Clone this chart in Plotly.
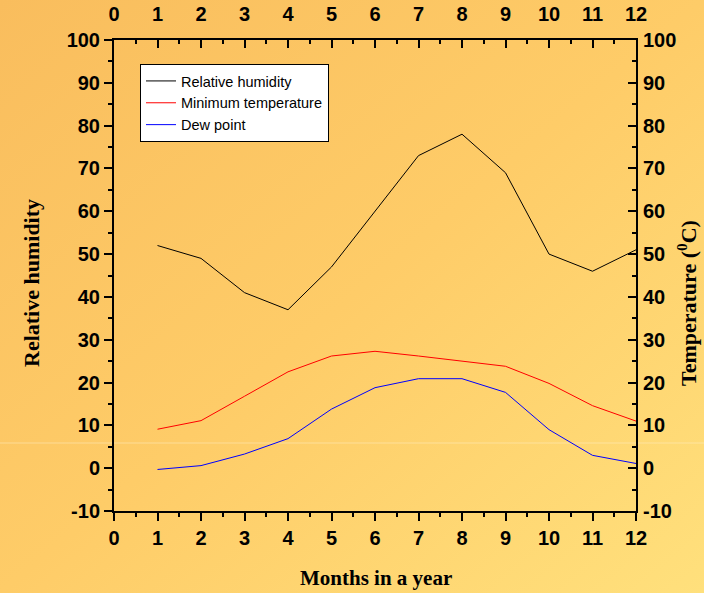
import base64
import plotly.graph_objects as go

months = [1, 2, 3, 4, 5, 6, 7, 8, 9, 10, 11, 12]
relative_humidity = [52, 49, 41, 37, 47, 60, 73, 78, 69, 50, 46, 51]
min_temperature = [9.1, 11.1, 16.8, 22.5, 26.2, 27.3, 26.2, 25.0, 23.8, 19.8, 14.6, 11.0]
dew_point = [-0.3, 0.6, 3.3, 6.9, 13.8, 18.8, 20.9, 20.9, 17.7, 9.0, 3.0, 1.1]
x_ticks = list(range(0, 13))
y_ticks = list(range(-10, 101, 10))
x_labels = [str(v) for v in x_ticks]
y_labels = [str(v) for v in y_ticks]

W, H = 704, 593
L, R, T, B = 114, 68, 40, 82
pw, ph = W - L - R, H - T - B

svg = (
    f'<svg xmlns="http://www.w3.org/2000/svg" width="{W}" height="{H}" viewBox="0 0 {W} {H}" preserveAspectRatio="none">'
    '<defs><linearGradient id="g" x1="0" y1="0" x2="1" y2="1">'
    '<stop offset="0" stop-color="#F9BD5D"/>'
    '<stop offset="0.5" stop-color="#FECC68"/>'
    '<stop offset="1" stop-color="#FFE07C"/>'
    '</linearGradient></defs>'
    f'<rect x="0" y="0" width="{W}" height="{H}" fill="url(#g)"/>'
    '</svg>'
)
src = "data:image/svg+xml;base64," + base64.b64encode(svg.encode()).decode()

tick_font = dict(family="Liberation Sans, Arial", size=20, color="black", weight="bold")
title_font = dict(family="Liberation Serif, Times New Roman, serif", color="black", weight="bold")

fig = go.Figure()
fig.add_trace(go.Scatter(x=months, y=relative_humidity, mode="lines", name="Relative humidity",
                         line=dict(color="black", width=1)))
fig.add_trace(go.Scatter(x=months, y=min_temperature, mode="lines", name="Minimum temperature",
                         line=dict(color="#FF0000", width=1)))
fig.add_trace(go.Scatter(x=months, y=dew_point, mode="lines", name="Dew point",
                         line=dict(color="#0000FF", width=1)))
fig.add_trace(go.Scatter(x=[0], y=[0], xaxis="x2", yaxis="y2", mode="none", showlegend=False, hoverinfo="skip"))

common = dict(showline=True, linecolor="black", linewidth=2, showgrid=False, zeroline=False, automargin=False,
              tickfont=tick_font, tickcolor="black", tickwidth=2, ticklen=8, tickmode="array")

fig.update_layout(
    width=W, height=H,
    margin=dict(l=L, r=R, t=T, b=B),
    paper_bgcolor="rgba(0,0,0,0)", plot_bgcolor="rgba(0,0,0,0)",
    images=[dict(source=src, xref="paper", yref="paper", x=-L / pw, y=1 + T / ph,
                 sizex=W / pw, sizey=H / ph, xanchor="left", yanchor="top",
                 sizing="stretch", layer="below")],
    xaxis=dict(range=[0, 12], tickvals=x_ticks, ticktext=x_labels, ticks="outside", ticklabelstandoff=0,
               minor=dict(dtick=0.5, ticks="outside", ticklen=4, tickwidth=2, tickcolor="black"), **common),
    xaxis2=dict(range=[0, 12], tickvals=x_ticks, ticktext=x_labels, overlaying="x", side="top", anchor="y2",
                ticks="inside", ticklabelstandoff=9,
                minor=dict(dtick=0.5, ticks="inside", ticklen=4, tickwidth=2, tickcolor="black"), **common),
    yaxis=dict(range=[-10, 100], tickvals=y_ticks, ticktext=y_labels, ticks="outside", ticklabelstandoff=0,
               minor=dict(dtick=5, ticks="outside", ticklen=4, tickwidth=2, tickcolor="black"), **common),
    yaxis2=dict(range=[-10, 100], tickvals=y_ticks, ticktext=y_labels, overlaying="y", side="right", anchor="x2",
                ticks="inside", ticklabelstandoff=1,
                minor=dict(dtick=5, ticks="inside", ticklen=4, tickwidth=2, tickcolor="black"), **common),
    legend=dict(x=(140 - L) / pw, y=(H - B - 64) / ph, xanchor="left", yanchor="top",
                bgcolor="white", bordercolor="black", borderwidth=1,
                font=dict(family="Liberation Sans, Arial", size=14.5, color="black"),
                itemwidth=30, tracegroupgap=0),
    showlegend=True,
    annotations=[
        dict(text="Months in a year", xref="paper", yref="paper", x=(376 - L) / pw, y=(H - B - 578) / ph,
             xanchor="center", yanchor="middle", showarrow=False, font=dict(size=21, **title_font)),
        dict(text="Relative humidity", xref="paper", yref="paper", x=(31 - L) / pw, y=(H - B - 283) / ph,
             xanchor="center", yanchor="middle", showarrow=False, textangle=-90, font=dict(size=22, **title_font)),
        dict(text="Temperature (<sup>0</sup>C)", xref="paper", yref="paper", x=(687 - L) / pw, y=(H - B - 303) / ph,
             xanchor="center", yanchor="middle", showarrow=False, textangle=-90, font=dict(size=22, **title_font)),
    ],
    shapes=[dict(type="line", xref="paper", yref="paper", x0=-L / pw, x1=(W - L) / pw,
                 y0=(H - B - 443) / ph, y1=(H - B - 443) / ph, layer="below",
                 line=dict(color="rgba(255,240,200,0.5)", width=1))],
)

fig.write_html("out.html")
